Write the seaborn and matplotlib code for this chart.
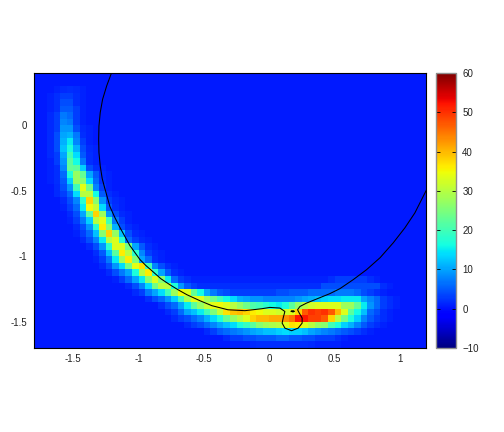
# plot.py - density map with a contour line over it
import numpy as np
import seaborn as sns
import matplotlib
matplotlib.use("Agg")
import matplotlib.pyplot as plt

plt.rcParams["font.family"] = ["Liberation Sans", "DejaVu Sans"]

# --- Data ---
n_rows = 42
n_cols = 60
x_start = -1.8
y_start = 0.4
cell = 0.05
background = 0.5

# first column of the band in each row, from row 2 (top) to row 41 (bottom)
row_starts = [3, 2, 2, 2, 2, 2, 2, 2, 2, 2, 2, 2, 2, 2, 2, 3, 3, 4, 4, 5,
              5, 6, 6, 7, 8, 9, 9, 10, 11, 12, 14, 15, 17, 19, 20, 21, 23, 26, 29, 30]
row_values = [
    [1, 1.5, 2, 1.5, 1],
    [1, 2, 3, 3, 2, 1],
    [1, 2, 4, 4, 2, 1],
    [1, 2, 5, 5, 3, 1],
    [1.5, 3, 7, 6, 3, 1],
    [1.5, 3, 8, 7, 3, 1],
    [1.5, 3, 9, 9, 4, 1.5, 1],
    [1.5, 4, 10, 11, 7, 2, 1],
    [1.5, 4, 11, 15, 8, 3, 1],
    [1.5, 4, 12, 17, 11, 4, 1.5, 1],
    [1.5, 3, 10, 20, 14, 5, 2, 1],
    [1, 3, 9, 22, 16, 7, 2, 1],
    [1, 2, 8, 23, 22, 13, 4, 2, 1],
    [1, 2, 6, 17, 27, 23, 10, 5, 1.5, 1],
    [1, 2, 5, 13, 27, 26, 14, 6, 2, 1],
    [1.5, 4, 9, 20, 34, 24, 8, 3, 1],
    [1.5, 3, 6, 14, 30, 30, 16, 5, 2, 1],
    [1.5, 4, 8, 18, 38, 26, 9, 3, 1.5, 1],
    [1, 3, 6, 15, 35, 31, 14, 5, 2, 1],
    [1.5, 4, 10, 22, 38, 28, 9, 4, 1.5, 1],
    [1, 3, 7, 13, 30, 34, 20, 7, 3, 1],
    [1.5, 4, 9, 18, 36, 26, 11, 4, 2, 1],
    [1, 3, 6, 12, 26, 38, 27, 12, 4, 1.5, 1],
    [1.5, 4, 8, 15, 30, 33, 18, 6, 3, 1.5, 1],
    [1.5, 4, 9, 18, 33, 33, 24, 10, 5, 2, 1],
    [2, 5, 12, 22, 36, 30, 18, 8, 3, 1.5, 1],
    [1, 3, 7, 15, 28, 36, 25, 10, 6, 2, 1],
    [1.5, 4, 9, 14, 24, 34, 37, 20, 8, 4, 2, 1],
    [1.5, 4, 7, 10, 17, 30, 36, 18, 10, 5, 2, 1],
    [1, 3, 6, 10, 15, 26, 33, 26, 15, 6, 3, 2, 1, 1, 1, 1, 1, 1, 1, 1, 1, 1, 1, 1, 1, 1, 1, 1, 1, 1, 1, 1, 1, 2, 3, 3, 3, 3, 3, 2, 1],
    [1.5, 4, 8, 14, 24, 30, 30, 17, 9, 5, 3, 2, 2, 2, 2, 2, 2, 2, 2, 2, 2, 2, 2, 2, 2, 2, 2, 2, 2, 2, 4, 4, 4, 4, 4, 4, 4, 4, 4, 2, 1],
    [1.5, 3, 7, 10, 14, 20, 28, 35, 33, 23, 16, 10, 7, 5, 4, 3, 3, 3, 3, 3, 3, 3, 4, 4, 5, 5, 5, 6, 6, 6, 6, 7, 7, 7, 6, 4, 3, 2, 1],
    [2, 4, 6, 9, 13, 20, 29, 34, 33, 28, 24, 20, 16, 14, 11, 10, 9, 9, 8, 8, 8, 8, 8, 9, 10, 11, 12, 13, 14, 14, 15, 15, 15, 10, 8, 6, 3, 2, 1],
    [2, 4, 6, 10, 15, 22, 27, 31, 34, 35, 33, 30, 27, 24, 21, 20, 18, 16, 15, 17, 22, 27, 30, 32, 33, 33, 33, 33, 28, 28, 23, 15, 9, 6, 3, 2, 1],
    [1.5, 3, 6, 10, 12, 15, 20, 25, 31, 37, 39, 40, 38, 36, 35, 33, 33, 32, 32, 33, 38, 47, 50, 49, 50, 47, 40, 33, 22, 16, 12, 6, 4, 2, 1],
    [1.5, 3, 4, 6, 8, 11, 14, 17, 23, 27, 30, 33, 38, 40, 40, 41, 41, 43, 45, 52, 52, 49, 49, 47, 38, 30, 24, 17, 13, 8, 5, 3, 2, 1],
    [1.5, 3, 4, 6, 8, 10, 12, 14, 17, 19, 22, 26, 28, 29, 30, 33, 37, 36, 33, 30, 27, 26, 20, 17, 13, 11, 8, 5, 3, 2, 1],
    [1.5, 3, 5, 6, 7, 8, 9, 10, 11, 12, 12, 13, 14, 13, 13, 12, 10, 9, 8, 7, 6, 5, 4, 3, 2, 1],
    [1.5, 3, 3, 4, 4, 5, 5, 5, 6, 6, 5, 5, 4, 4, 3, 3, 3, 2, 1],
    [1, 1, 1, 1.5, 2, 2, 2, 2, 2, 2, 2, 2, 1.5, 1, 1, 1, 1],
]

# contour line, in axis units
curve_x = [-1.206, -1.244, -1.275, -1.293, -1.303, -1.305, -1.303, -1.293, -1.278, -1.262,
           -1.219, -1.181, -1.142, -1.104, -1.066, -0.989, -0.943, -0.890, -0.829, -0.760,
           -0.698, -0.630, -0.530, -0.438, -0.316, -0.186, -0.056, 0.005, 0.082, 0.120,
           0.107, 0.099, 0.120, 0.171, 0.222, 0.252, 0.252, 0.230, 0.217, 0.235,
           0.286, 0.350, 0.464, 0.541, 0.643, 0.745, 0.849, 0.949, 1.038, 1.115, 1.205]
curve_y = [0.403, 0.301, 0.199, 0.099, -0.005, -0.107, -0.207, -0.311, -0.406, -0.467,
           -0.620, -0.704, -0.780, -0.849, -0.918, -1.025, -1.071, -1.117, -1.171, -1.217,
           -1.255, -1.293, -1.339, -1.377, -1.408, -1.415, -1.400, -1.390, -1.395, -1.421,
           -1.471, -1.510, -1.548, -1.568, -1.548, -1.510, -1.471, -1.433, -1.408, -1.383,
           -1.357, -1.331, -1.285, -1.247, -1.178, -1.102, -1.010, -0.897, -0.783, -0.668, -0.490]

# tiny closed contour next to the loop
dot_x = [0.170, 0.182, 0.192, 0.182, 0.170]
dot_y = [-1.420, -1.416, -1.420, -1.424, -1.420]

x_ticks = [-1.5, -1, -0.5, 0, 0.5, 1]
y_ticks = [0, -0.5, -1, -1.5]
cbar_ticks = [-10, 0, 10, 20, 30, 40, 50, 60]


def to_col(x):
    return (np.asarray(x, dtype=float) - x_start) / cell


def to_row(y):
    return (y_start - np.asarray(y, dtype=float)) / cell


def build_matrix():
    grid = np.full((n_rows, n_cols), background)
    for r, (start, vals) in enumerate(zip(row_starts, row_values), start=2):
        grid[r, start:start + len(vals)] = vals
    return grid


W, H = 504, 432
fig = plt.figure(figsize=(W / 100, H / 100), dpi=100)
ax = fig.add_axes([34 / W, (H - 348) / H, 392 / W, 275 / H])
cax = fig.add_axes([436 / W, (H - 348) / H, 20 / W, 275 / H])

sns.heatmap(build_matrix(), ax=ax, cbar_ax=cax, cmap="jet", vmin=-10, vmax=60,
            xticklabels=False, yticklabels=False, cbar_kws={"ticks": cbar_ticks})

# contour on top of the cells
ax.plot(to_col(curve_x), to_row(curve_y), color="black", lw=0.75)
ax.plot(to_col(dot_x), to_row(dot_y), color="black", lw=0.9)

ax.set_xticks(to_col(x_ticks))
ax.set_xticklabels([f"{t:g}" for t in x_ticks])
ax.set_yticks(to_row(y_ticks))
ax.set_yticklabels([f"{t:g}" for t in y_ticks], rotation=0)
ax.tick_params(length=0, labelsize=7, pad=4, colors="#222222")
ax.tick_params(axis="y", pad=5)
for spine in ax.spines.values():
    spine.set_visible(True)
    spine.set_color("black")
    spine.set_linewidth(0.8)

cax.tick_params(direction="in", left=True, right=True, length=3, width=0.6,
                labelsize=7, pad=4.5, labelcolor="#222222")
cbar = ax.collections[0].colorbar
cbar.outline.set_visible(True)
cbar.outline.set_edgecolor("#909090")
cbar.outline.set_linewidth(1.0)

fig.savefig("out.png", dpi=100)
